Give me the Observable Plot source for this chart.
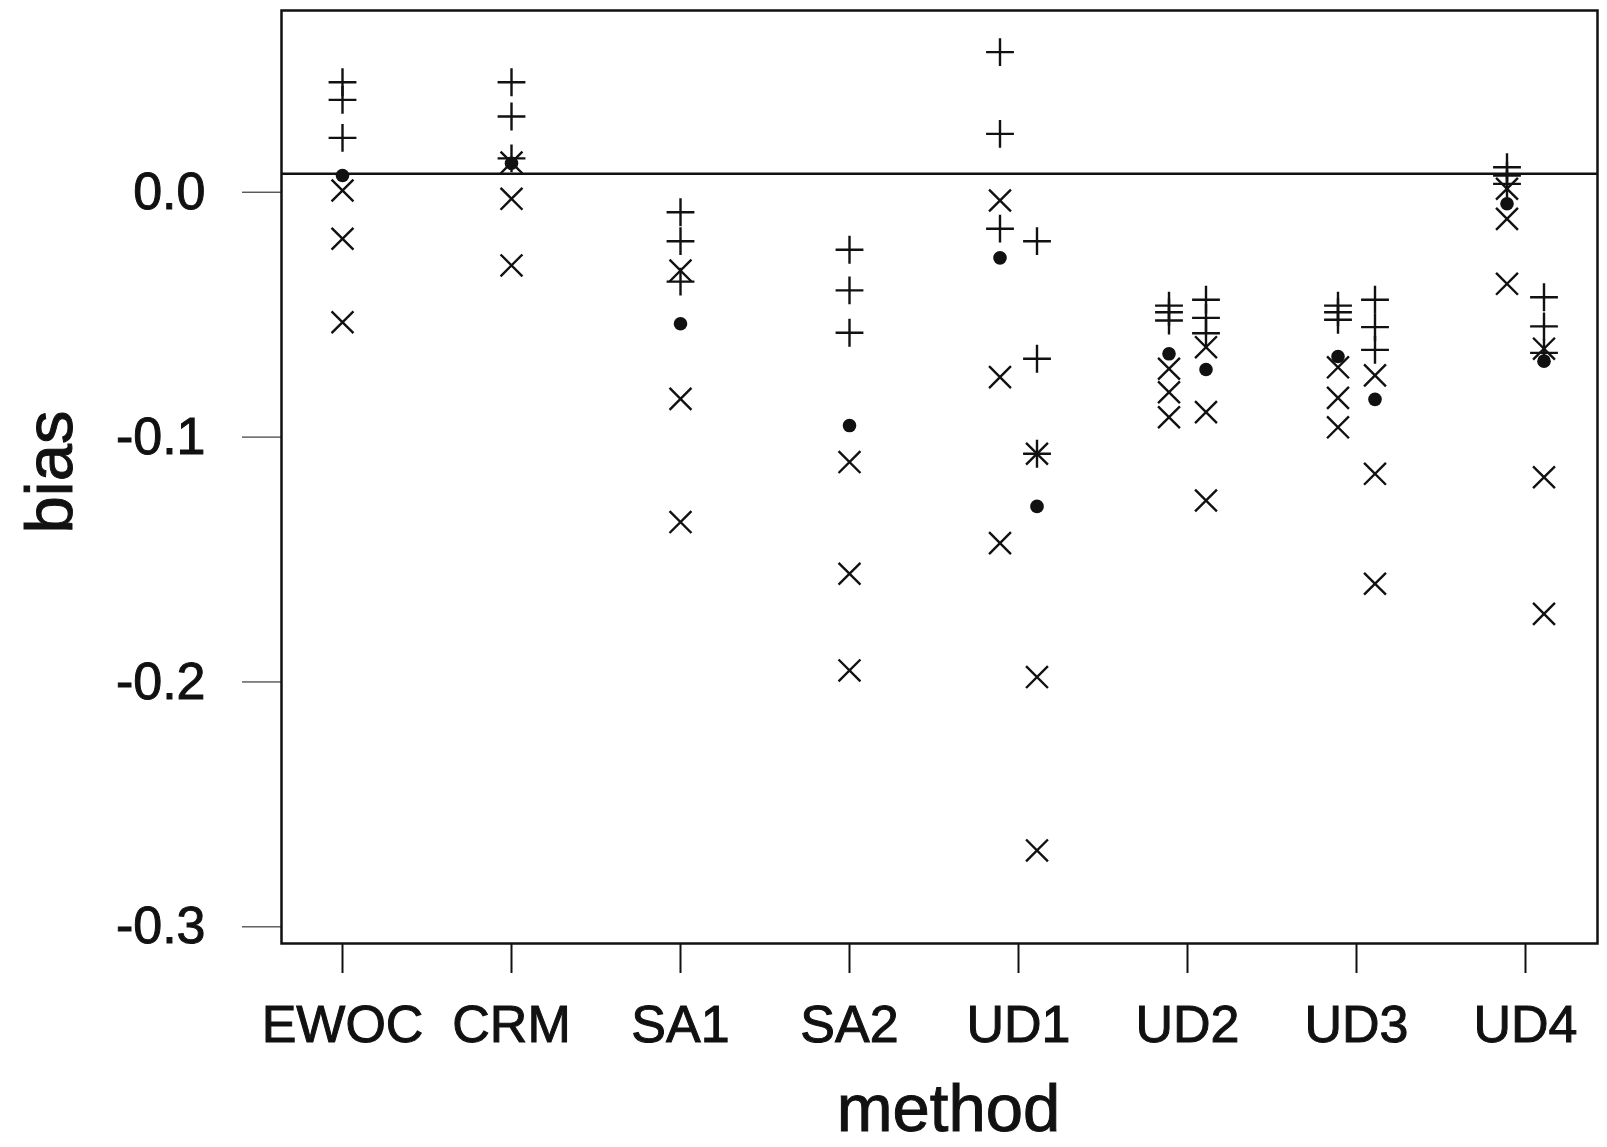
<!DOCTYPE html>
<html>
<head>
<meta charset="utf-8">
<script src="https://cdn.jsdelivr.net/npm/d3@7"></script>
<script src="https://cdn.jsdelivr.net/npm/@observablehq/plot@0.6"></script>
<style>
  html, body { margin: 0; padding: 0; background: #fff; overflow: hidden; }
  #chart svg [aria-label^="x-axis"] line,
  #chart svg [aria-label^="x-axis"] path { stroke-width: 2; }
  #chart svg text { stroke: #111; stroke-width: 1px; }
</style>
</head>
<body>
<div id="chart"></div>
<script>
// Dose-finding designs compared on estimation bias
const methods = ["EWOC", "CRM", "SA1", "SA2", "UD1", "UD2", "UD3", "UD4"];
const yTicks = [0, -0.1, -0.2, -0.3];
const referenceBias = [0.0075];

// One entry per column of markers: the method and its slot (L = left, M = middle, R = right)
const groupMethod = ["EWOC", "CRM", "SA1", "SA2", "UD1", "UD1", "UD2", "UD2", "UD3", "UD3", "UD4", "UD4"];
const groupSlot   = ["M",    "M",   "M",   "M",   "L",   "R",   "L",   "R",   "L",   "R",   "L",   "R"];

// "+" markers
const plusBias = [
  [0.0449, 0.0377, 0.0222],
  [0.0449, 0.0309, 0.0138],
  [-0.0082, -0.0200, -0.0365],
  [-0.0235, -0.0401, -0.0574],
  [0.0572, 0.0238, -0.0149],
  [-0.0200, -0.0680, -0.1068],
  [-0.0463, -0.0490, -0.0524],
  [-0.0439, -0.0513, -0.0576],
  [-0.0463, -0.0490, -0.0521],
  [-0.0439, -0.0551, -0.0644],
  [0.0102, 0.0068, 0.0034],
  [-0.0429, -0.0548, -0.0656]
];

// filled dots
const dotBias = [0.0068, 0.0118, -0.0537, -0.0953, -0.0268, -0.1283, -0.0660, -0.0724, -0.0671, -0.0846, -0.0047, -0.0690];

// "x" markers
const timesBias = [
  [0.0007, -0.0190, -0.0531],
  [0.0121, -0.0027, -0.0299],
  [-0.0320, -0.0844, -0.1347],
  [-0.1102, -0.1558, -0.1953],
  [-0.0034, -0.0755, -0.1433],
  [-0.1068, -0.1980, -0.2688],
  [-0.0721, -0.0817, -0.0919],
  [-0.0633, -0.0898, -0.1259],
  [-0.0715, -0.0840, -0.0960],
  [-0.0748, -0.1150, -0.1599],
  [0.0014, -0.0109, -0.0374],
  [-0.0639, -0.1164, -0.1722]
];

// Flatten into a tidy table
const rows = [];
groupMethod.forEach((method, i) => {
  const slot = groupSlot[i];
  plusBias[i].forEach(bias => rows.push({method, slot, shape: "plus", bias}));
  rows.push({method, slot, shape: "dot", bias: dotBias[i]});
  timesBias[i].forEach(bias => rows.push({method, slot, shape: "times", bias}));
});

const ink = "#111";
const slotShift = {L: -18.5, M: 0, R: 18.5};

const marks = [
  Plot.frame({stroke: ink, strokeWidth: 2.5}),
  Plot.ruleY(referenceBias, {stroke: ink, strokeWidth: 2.5})
];

for (const slot of ["L", "M", "R"]) {
  marks.push(
    Plot.dot(rows, {
      filter: d => d.slot === slot && d.shape === "plus",
      x: "method", y: "bias", symbol: "plus", r: 9,
      stroke: ink, strokeWidth: 2.4, dx: slotShift[slot]
    }),
    Plot.dot(rows, {
      filter: d => d.slot === slot && d.shape === "times",
      x: "method", y: "bias", symbol: "times", r: 10,
      stroke: ink, strokeWidth: 2.4, dx: slotShift[slot]
    }),
    Plot.dot(rows, {
      filter: d => d.slot === slot && d.shape === "dot",
      x: "method", y: "bias", r: 6.8,
      fill: ink, stroke: "none", dx: slotShift[slot]
    })
  );
}

// Axis titles
marks.push(
  Plot.text(["bias"], {
    text: d => d, frameAnchor: "left", textAnchor: "middle", lineAnchor: "middle",
    dx: -231, dy: -5, rotate: -90, fontSize: 67, fill: ink
  }),
  Plot.text(["method"], {
    text: d => d, frameAnchor: "bottom", textAnchor: "middle", lineAnchor: "middle",
    dx: 9, dy: 166, fontSize: 67, fill: ink
  })
);

const chart = Plot.plot({
  width: 1607,
  height: 1147,
  marginTop: 10,
  marginRight: 10,
  marginBottom: 204,
  marginLeft: 281,
  style: {
    fontFamily: "'Liberation Sans', Arial, Helvetica, sans-serif",
    fontSize: "52px",
    background: "#fff",
    color: ink
  },
  x: {
    type: "point",
    domain: methods,
    padding: 0.375,
    insetLeft: -6,
    insetRight: 6,
    tickSize: 30,
    tickPadding: 32,
    label: null
  },
  y: {
    domain: [-0.3068, 0.0742],
    ticks: yTicks,
    tickFormat: d => d.toFixed(1),
    tickSize: 39,
    tickPadding: 37,
    label: null
  },
  marks
});

document.getElementById("chart").appendChild(chart);
</script>
</body>
</html>
